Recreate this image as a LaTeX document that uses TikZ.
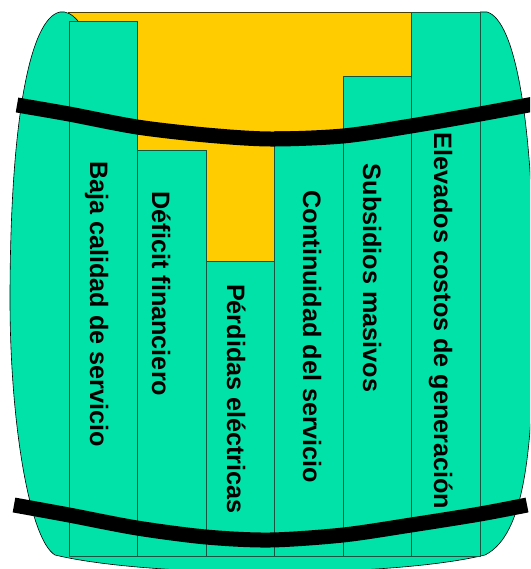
\documentclass[tikz,border=0pt]{standalone}
\usepackage{fontspec}
\setmainfont{Liberation Sans}
\definecolor{barrelgreen}{RGB}{0,226,168}
\definecolor{barrelyellow}{RGB}{255,204,0}
\definecolor{staveline}{RGB}{20,85,65}
\begin{document}
\begin{tikzpicture}[x=1pt,y=-1pt,
  stave/.style={fill=barrelgreen,draw=staveline,line width=0.8pt},
  stavetext/.style={rotate=-90,anchor=base,font=\fontsize{25.2}{30}\selectfont\bfseries,inner sep=0pt},
  hoop/.style={line width=15pt,black}]
\useasboundingbox (0,0) rectangle (530,569);
\clip (0,0) rectangle (530,569);
% yellow background
\fill[barrelyellow] (68,12) rectangle (481,320);
\draw[line width=0.6pt,black!70!barrelyellow] (68,12) -- (481,12);
% barrel body
\fill[barrelgreen] (78,21) .. controls (72,14) and (66,11) .. (60,12)
  .. controls (30,18) and (10,120) .. (10,300)
  .. controls (10,425) and (30,540) .. (55,555)
  .. controls (150,578) and (390,578) .. (485,555)
  .. controls (525,535) and (534,450) .. (534,300)
  .. controls (534,120) and (515,20) .. (487,12)
  -- (480,12) -- (480,320) -- (78,320) -- cycle;
\draw[line width=0.6pt] (78,21) .. controls (72,14) and (66,11) .. (60,12)
  .. controls (30,18) and (10,120) .. (10,300)
  .. controls (10,425) and (30,540) .. (55,555)
  .. controls (150,578) and (390,578) .. (485,555)
  .. controls (525,535) and (534,450) .. (534,300)
  .. controls (534,120) and (515,20) .. (487,12) -- (480,12);
% staves
\draw[stave] (69,21) rectangle (137,556);
\draw[stave] (137,150) rectangle (206,556);
\draw[stave] (206,261) rectangle (274,556);
\draw[stave] (274,131) rectangle (343,556);
\draw[stave] (343,76) rectangle (411,556);
\draw[stave] (411,12) rectangle (480,556);
% texts
\node[stavetext] (t1) at (90,304) {Baja calidad de servicio};
\node[stavetext] (t2) at (152,294) {Déficit financiero};
\node[stavetext] (t3) at (227,399) {Pérdidas eléctricas};
\node[stavetext] (t4) at (303,337) {Continuidad del servicio};
\node[stavetext] (t5) at (363,278) {Subsidios masivos};
\node[stavetext] (t6) at (434,321) {Elevados costos de generación};
% hoops
\draw[hoop] plot[smooth] coordinates {(17,105) (69,114) (137,127) (206,135) (270,139) (343,136) (411,126) (480,114) (534,104)};
\draw[hoop] plot[smooth] coordinates {(14,505) (69,515) (137,528) (206,537) (270,540) (343,535) (411,525) (480,514) (527,505)};
\end{tikzpicture}
\end{document}
